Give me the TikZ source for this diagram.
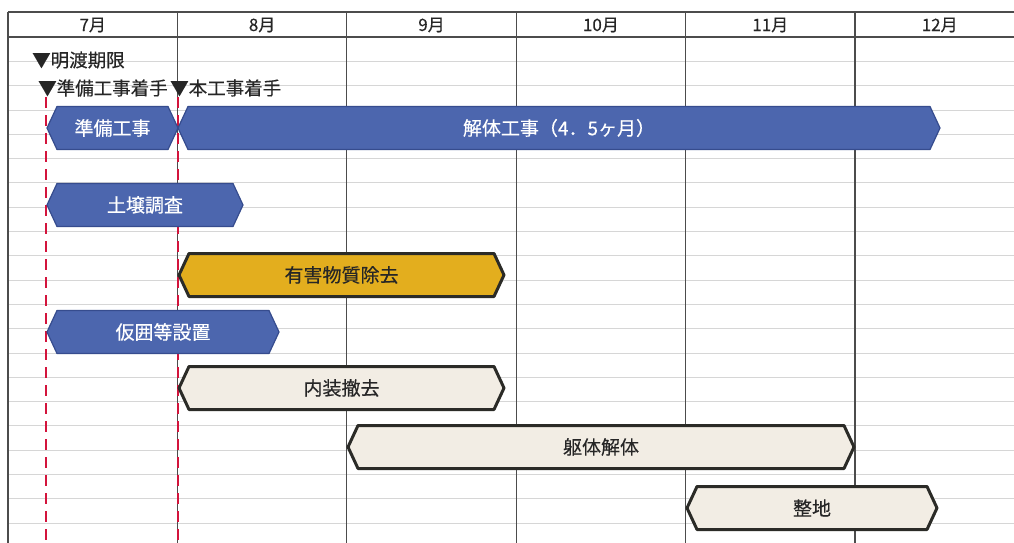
\documentclass[tikz,border=0pt]{standalone}
\usepackage{fontspec}
\setmainfont{Noto Sans CJK JP}[FakeBold=0.35]
\usetikzlibrary{calc}

\definecolor{barblue}{HTML}{4C66AE}
\definecolor{barblueedge}{HTML}{364C8E}
\definecolor{bargold}{HTML}{E3AE1E}
\definecolor{barbeige}{HTML}{F2EDE4}
\definecolor{baredge}{HTML}{2B2B27}
\definecolor{limitred}{HTML}{D3143C}

\begin{document}
\begin{tikzpicture}[x=1pt, y=-1pt, line join=round]
    \tikzset{
        gridline/.style={draw=black!16, line width=0.8pt},
        monthline/.style={draw=black!70, line width=1.2pt},
        limitline/.style={draw=limitred, line width=2.8pt, dash pattern=on 11pt off 7pt},
        bluebar/.style={fill=barblue, draw=barblueedge, line width=1.2pt},
        goldbar/.style={fill=bargold, draw=baredge, line width=3pt},
        beigebar/.style={fill=barbeige, draw=baredge, line width=3pt},
        bartext/.style={font=\fontsize{19}{19}\selectfont, inner sep=0pt},
        month/.style={font=\fontsize{17}{17}\selectfont, text=black!85},
        marker/.style={font=\fontsize{18.5}{18.5}\selectfont, anchor=west, inner sep=0pt, text=black!85}
    }
    \useasboundingbox[fill=white] (0,0) rectangle (1014,543);

    % table
    \foreach \k in {1,...,20}
        \draw[gridline] (8,{37+24.3*\k}) -- (1014,{37+24.3*\k});
    \foreach \i in {0,...,5}
        \draw[monthline] ({8+169.4*\i},12) -- ({8+169.4*\i},543);
    \draw[monthline] (8,12) -- (1014,12);
    \draw[monthline] (8,37) -- (1014,37);
    \foreach \m [count=\i from 0] in {7,...,12}
        \node[month] (m\m) at ({8+169.4*(\i+0.5)},25) {{\m}月};

    % milestones
    \node[marker] (mark_ake) at (32,60) {▼明渡期限};
    \node[marker] (mark_junbi) at (38,88) {▼準備工事着手};
    \node[marker] (mark_hon) at (170,88) {▼本工事着手};
    \coordinate (r1_top) at (46,97);
    \coordinate (r1_bot) at (46,543);
    \coordinate (r2_top) at (178,97);
    \coordinate (r2_bot) at (178,543);
    \draw[limitline] (r1_top) -- (r1_bot);
    \draw[limitline] (r2_top) -- (r2_bot);

    % bars
    \foreach \name/\xa/\xb/\yc/\sty/\tcol/\txt in {
        bar_junbi/47/178/128/bluebar/white/準備工事,
        bar_kaitai/178/940/128/bluebar/white/解体工事（4．5ヶ月）,
        bar_dojou/47/243/205/bluebar/white/土壌調査,
        bar_yugai/179/504/275/goldbar/black!85/有害物質除去,
        bar_kari/47/279/332/bluebar/white/仮囲等設置,
        bar_naisou/179/504/388/beigebar/black!85/内装撤去,
        bar_kutai/348/854/447/beigebar/black!85/躯体解体,
        bar_seichi/687/937/508/beigebar/black!85/整地}
    {
        \draw[\sty] (\xa,\yc) -- (\xa+10,\yc-21.5) -- (\xb-10,\yc-21.5)
            -- (\xb,\yc) -- (\xb-10,\yc+21.5) -- (\xa+10,\yc+21.5) -- cycle;
        \node[bartext, text=\tcol] (\name) at ({(\xa+\xb)/2},\yc) {\txt};
    }

\end{tikzpicture}
\end{document}
